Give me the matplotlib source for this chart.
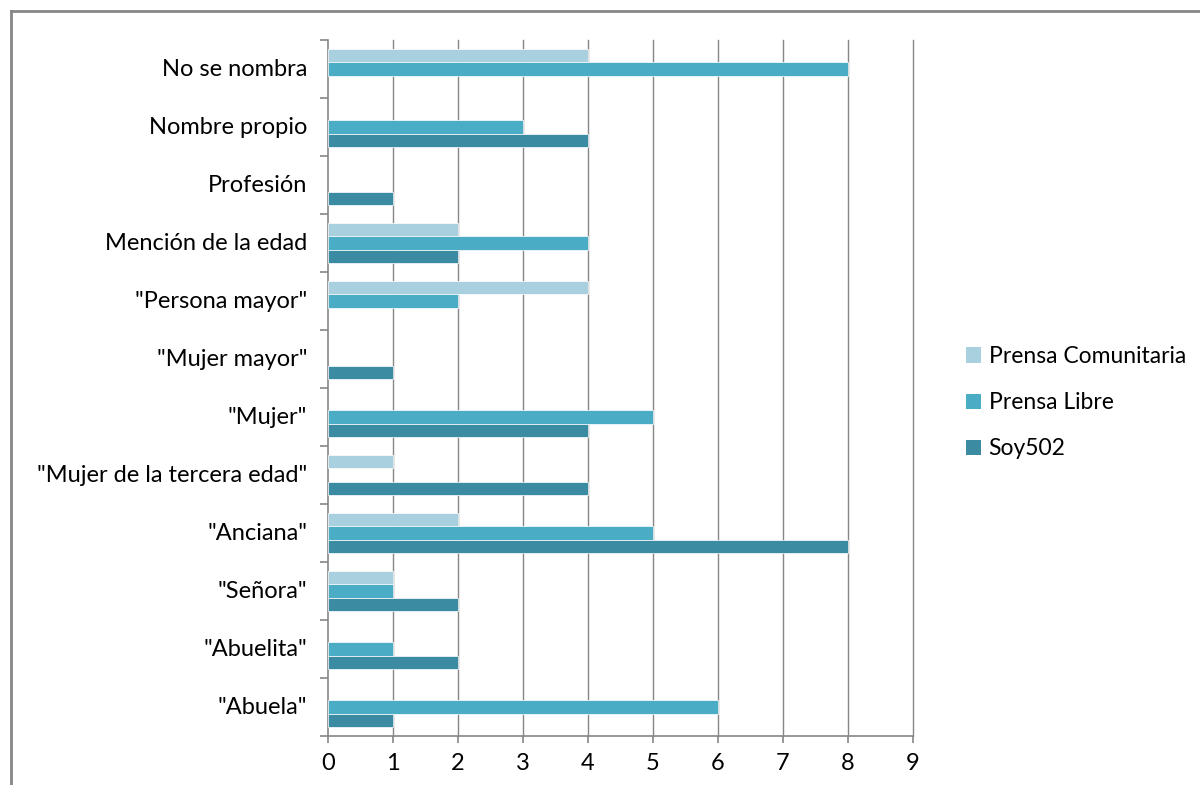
import numpy as np
import matplotlib.pyplot as plt
from matplotlib.lines import Line2D
from matplotlib.patches import Patch

categories = ['"Abuela"', '"Abuelita"', '"Señora"', '"Anciana"',
              '"Mujer de la tercera edad"', '"Mujer"', '"Mujer mayor"',
              '"Persona mayor"', 'Mención de la edad', 'Profesión',
              'Nombre propio', 'No se nombra']
prensa_comunitaria = [0, 0, 1, 2, 1, 0, 0, 4, 2, 0, 0, 4]
prensa_libre = [6, 1, 1, 5, 0, 5, 0, 2, 4, 0, 3, 8]
soy502 = [1, 2, 2, 8, 4, 4, 1, 0, 2, 1, 4, 0]

series = ['Prensa Comunitaria', 'Prensa Libre', 'Soy502']
colors = ['#A9D0DE', '#4BACC6', '#3B8BA3']

plt.rcParams['font.family'] = ['Lato', 'DejaVu Sans']

fig = plt.figure(figsize=(12, 7.85), dpi=100)
ax = fig.add_axes([0.2733, 0.0624, 0.4875, 0.8866])

y = np.arange(len(categories))
h = 0.23
for i, (vals, col) in enumerate(zip([prensa_comunitaria, prensa_libre, soy502], colors)):
    vals = np.array(vals, dtype=float)
    ax.barh(y + (1 - i) * h, np.where(vals > 0, vals, np.nan), height=h, color=col,
            edgecolor='white', linewidth=0.5, zorder=3, label=series[i])

ax.set_xlim(0, 9)
ax.set_ylim(-0.5, len(categories) - 0.5)
ax.set_xticks(range(10))
ax.tick_params(axis='x', labelsize=17, length=5, color='#868686', width=1.2, pad=7)
ax.set_yticks(np.arange(-0.5, len(categories), 1))
ax.set_yticklabels([])
ax.set_yticks(y + 0.03, minor=True)
ax.set_yticklabels(categories, minor=True)
ax.tick_params(axis='y', which='major', length=6, color='#868686', width=1.2)
ax.tick_params(axis='y', which='minor', length=0, labelsize=17, pad=15)
for xv in range(1, 10):
    ax.axvline(xv, color='#868686', linewidth=1.0, zorder=0, clip_on=False)
for s in ['top', 'right']:
    ax.spines[s].set_visible(False)
for s in ['left', 'bottom']:
    ax.spines[s].set_color('#868686')
    ax.spines[s].set_linewidth(1.2)

handles = [Patch(facecolor=c, label=s) for c, s in zip(colors, series)]
fig.legend(handles=handles, loc='center left', bbox_to_anchor=(0.7875, 0.487),
           frameon=False, fontsize=16.5, handlelength=0.65, handleheight=0.65,
           handletextpad=0.35, labelspacing=1.1)

fig.add_artist(Line2D([0.009, 0.009], [0, 0.986], color='#868686', lw=2))
fig.add_artist(Line2D([0.009, 1.0], [0.986, 0.986], color='#868686', lw=2))

fig.savefig('out.png', dpi=100)
